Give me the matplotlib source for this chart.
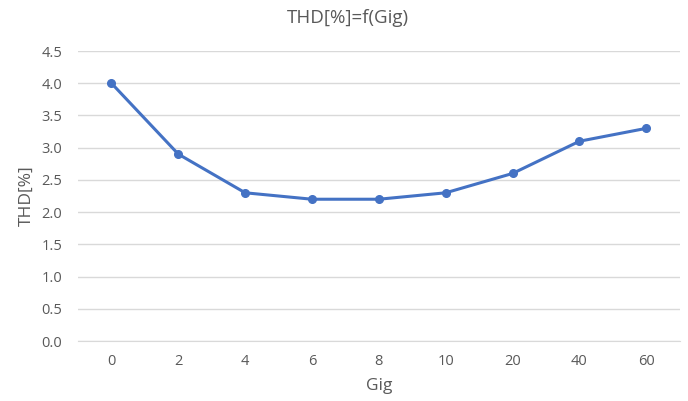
import numpy as np
import matplotlib.pyplot as plt

plt.rcParams['font.family'] = ['Open Sans', 'DejaVu Sans']

gig = ['0', '2', '4', '6', '8', '10', '20', '40', '60']
thd = [4.0, 2.9, 2.3, 2.2, 2.2, 2.3, 2.6, 3.1, 3.3]
yticks = [0.0, 0.5, 1.0, 1.5, 2.0, 2.5, 3.0, 3.5, 4.0, 4.5]

txt = '#595959'
fig = plt.figure(figsize=(6.88, 4.01), dpi=100)
ax = fig.add_axes([0.1134, 0.1496, 0.8746, 0.7232])

x = np.arange(len(gig))
ax.plot(x, thd, '-o', color='#4472C4', linewidth=2.2, markersize=5.5)

ax.set_xlim(-0.5, len(gig) - 0.5)
ax.set_ylim(0, 4.5)
ax.set_yticks(yticks)
ax.set_yticklabels(['%.1f' % v for v in yticks])
ax.set_xticks(x)
ax.set_xticklabels(gig)
ax.grid(axis='y', color='#D9D9D9', linewidth=1)
ax.set_axisbelow(True)
for s in ['top', 'right', 'left']:
    ax.spines[s].set_visible(False)
ax.spines['bottom'].set_color('#D9D9D9')
ax.tick_params(length=0, labelsize=10.5, colors=txt)
ax.tick_params(axis='x', pad=9)
ax.tick_params(axis='y', pad=11.5)

fig.text(0.505, 1 - 18 / 401, 'THD[%]=f(Gig)', fontsize=13.5, color=txt,
         ha='center', va='center')
ax.set_xlabel('Gig', fontsize=12.5, color=txt, labelpad=7)
ax.set_ylabel('THD[%]', fontsize=12.5, color=txt, labelpad=5)

fig.savefig('out.png', dpi=100)
